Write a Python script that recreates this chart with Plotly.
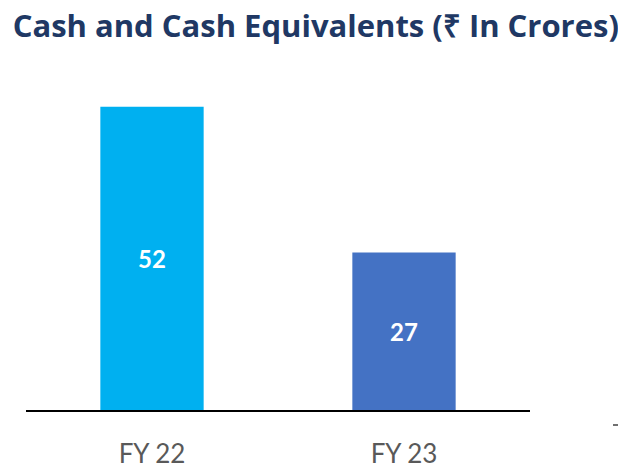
import plotly.graph_objects as go

categories = ["FY 22", "FY 23"]
values = [52, 27]
bar_colors = ["#00B0F0", "#4472C4"]
title_text = "Cash and Cash Equivalents (₹ In Crores)"

W, H = 618, 468
ml, mr, mt, mb = 26, 88, 60, 58

fig = go.Figure(go.Bar(
    x=categories, y=values,
    marker=dict(color=bar_colors, line=dict(width=0)),
    text=[str(v) for v in values],
    textposition="inside", insidetextanchor="middle",
    textfont=dict(family="Lato", size=24, color="white", weight="bold"),
    width=0.41,
))

fig.update_layout(
    width=W, height=H,
    margin=dict(l=ml, r=mr, t=mt, b=mb, autoexpand=False),
    paper_bgcolor="white", plot_bgcolor="white",
    showlegend=False,
    title=dict(text=title_text, x=0.511, xref="container", xanchor="center",
               y=1 - 26 / H, yref="container", yanchor="middle",
               font=dict(family="Open Sans", size=31, color="#203864", weight="bold")),
    xaxis=dict(showline=True, linecolor="#000000", linewidth=2,
               showgrid=False, ticks="", zeroline=False, ticklabelstandoff=20,
               tickfont=dict(family="Lato", size=26, color="#595959")),
    yaxis=dict(visible=False, range=[0, 60], showgrid=False, zeroline=False),
)

# small stray dash at right edge of the slide
pw = W - ml - mr
ph = H - mt - mb
fig.add_shape(type="line", xref="paper", yref="paper",
              x0=(613 - ml) / pw, x1=(618 - ml) / pw,
              y0=(H - mb - 425) / ph, y1=(H - mb - 425) / ph,
              line=dict(color="#404040", width=1.5))

fig.write_html("out.html", config={"displayModeBar": False},
               post_script="document.body.style.margin='0';document.body.style.overflow='hidden';")
